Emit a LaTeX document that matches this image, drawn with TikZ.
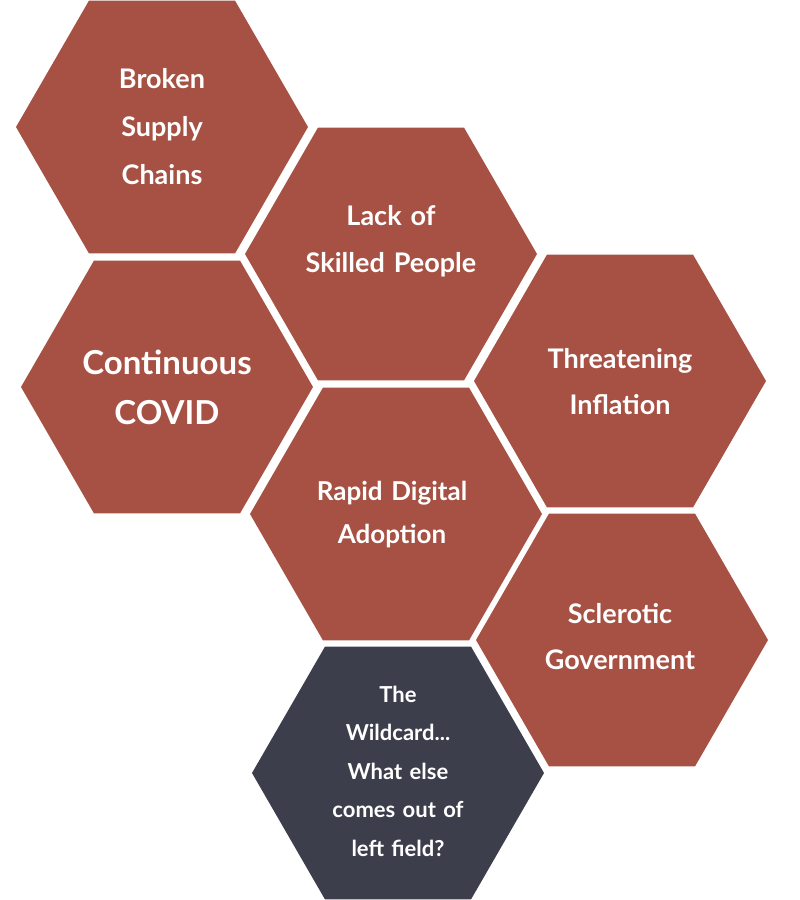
\documentclass[tikz,border=0pt]{standalone}
\usepackage{fontspec}
\setmainfont{Lato}
\definecolor{hexred}{HTML}{A65143}
\definecolor{hexdark}{HTML}{3D3E4C}
\newcommand\myhex[5]{%
  \fill[#4] (#1,#2) +(0:146) -- +(60:146) -- +(120:146) -- +(180:146) -- +(240:146) -- +(300:146) -- cycle;
  \node[hextext,font=\bfseries#5] (#3) at (#1,#2) {};}
\begin{document}
\begin{tikzpicture}[x=1pt,y=-1pt,
  hextext/.style={text=white,align=center,text width=230pt}]
\useasboundingbox (0,0) rectangle (800,900);
\fill[hexred] (162,127) +(0:146) -- +(60:146) -- +(120:146) -- +(180:146) -- +(240:146) -- +(300:146) -- cycle;
\node[hextext,font=\bfseries\fontsize{27}{48}\selectfont] (bsc) at (162,127) {Broken\\Supply\\Chains};
\fill[hexred] (391,254) +(0:146) -- +(60:146) -- +(120:146) -- +(180:146) -- +(240:146) -- +(300:146) -- cycle;
\node[hextext,font=\bfseries\fontsize{27}{47}\selectfont] (lsp) at (391,241) {Lack of\\Skilled People};
\fill[hexred] (167,387) +(0:146) -- +(60:146) -- +(120:146) -- +(180:146) -- +(240:146) -- +(300:146) -- cycle;
\node[hextext,font=\bfseries\fontsize{33}{50}\selectfont] (cov) at (167,387) {Continuous\\COVID};
\fill[hexred] (620,381) +(0:146) -- +(60:146) -- +(120:146) -- +(180:146) -- +(240:146) -- +(300:146) -- cycle;
\node[hextext,font=\bfseries\fontsize{27}{46}\selectfont] (inf) at (620,382) {Threatening\\Inflation};
\fill[hexred] (396,514) +(0:146) -- +(60:146) -- +(120:146) -- +(180:146) -- +(240:146) -- +(300:146) -- cycle;
\node[hextext,font=\bfseries\fontsize{26}{43}\selectfont] (rda) at (392,515) {Rapid Digital\\Adoption};
\fill[hexred] (622,640) +(0:146) -- +(60:146) -- +(120:146) -- +(180:146) -- +(240:146) -- +(300:146) -- cycle;
\node[hextext,font=\bfseries\fontsize{27}{46}\selectfont] (gov) at (620,637) {Sclerotic\\Government};
\fill[hexdark] (398,773) +(0:146) -- +(60:146) -- +(120:146) -- +(180:146) -- +(240:146) -- +(300:146) -- cycle;
\node[hextext,font=\bfseries\fontsize{22}{38.5}\selectfont] (wc) at (398,771) {The\\Wildcard...\\What else\\comes out of\\left field?};
\end{tikzpicture}
\end{document}
